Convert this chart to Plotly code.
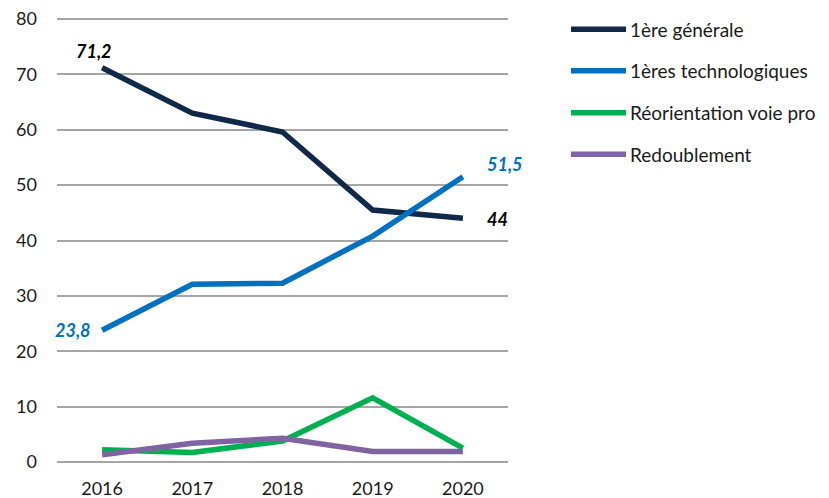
import plotly.graph_objects as go

years = ["2016", "2017", "2018", "2019", "2020"]
generale = [71.2, 63.0, 59.6, 45.5, 44.0]
techno = [23.8, 32.1, 32.3, 40.8, 51.5]
reorientation = [2.2, 1.7, 3.8, 11.6, 2.5]
redoublement = [1.3, 3.4, 4.3, 1.9, 1.9]

series_names = ["1ère générale", "1ères technologiques", "Réorientation voie pro", "Redoublement"]
series_values = [generale, techno, reorientation, redoublement]
colors = ["#10284A", "#0070C0", "#00B050", "#8064A2"]
y_ticks = [0, 10, 20, 30, 40, 50, 60, 70, 80]

FONT = "Lato, Carlito, Calibri, sans-serif"

fig = go.Figure()
for name, vals, col in zip(series_names, series_values, colors):
    fig.add_trace(go.Scatter(x=years, y=vals, mode="lines", name=name,
                             line=dict(color=col, width=5.5), showlegend=False))

def fmt(v):
    s = f"{v:g}"
    return s.replace(".", ",")

# data labels (x given as category index)
first, last = 0, len(years) - 1
labels = [
    (first, generale[0], "#000000", -8, 17, "center"),
    (last, generale[-1], "#000000", 22, -1, "left"),
    (first, techno[0], "#0070C0", -9, 0, "right"),
    (last, techno[-1], "#0070C0", 22, 13, "left"),
]
for x, y, col, xs, ys, xa in labels:
    fig.add_annotation(x=x, y=y, text=f"<b><i>{fmt(y)}</i></b>", showarrow=False,
                       xanchor=xa, yanchor="middle", xshift=xs, yshift=ys,
                       font=dict(family=FONT, size=18, color=col))

# manual legend (paper coords; plot area x 57..508, y 17..464)
leg_y = [0.9725, 0.8799, 0.7859, 0.6928]
x0, x1 = (571 - 57) / 451, (626 - 57) / 451
xt = (628 - 57) / 451
for name, col, yy in zip(series_names, colors, leg_y):
    fig.add_shape(type="line", xref="paper", yref="paper", x0=x0, x1=x1, y0=yy, y1=yy,
                  line=dict(color=col, width=5.5))
    fig.add_annotation(xref="paper", yref="paper", x=xt, y=yy, text=name, showarrow=False,
                       xanchor="left", yanchor="middle",
                       font=dict(family=FONT, size=19, color="#1a1a1a"))

fig.update_layout(
    width=829, height=498,
    margin=dict(l=57, r=321, t=17, b=34, autoexpand=False),
    paper_bgcolor="white", plot_bgcolor="white",
    font=dict(family=FONT, size=18, color="#1a1a1a"),
)
fig.update_xaxes(type="category", range=[-0.5, len(years) - 0.5], automargin=False,
                 showgrid=False, showline=False, zeroline=False,
                 ticks="", ticklabelstandoff=12, tickfont=dict(size=18))
fig.update_yaxes(range=[-0.361, 80.361], tickvals=y_ticks, showgrid=True, gridcolor="#A6A6A6",
                 gridwidth=2, zeroline=False, showline=False, ticks="", automargin=False,
                 ticklabelstandoff=19, tickfont=dict(size=18))

fig.write_html("out.html", config={"displayModeBar": False},
               post_script="document.body.style.margin='0';document.body.style.overflow='hidden';")
